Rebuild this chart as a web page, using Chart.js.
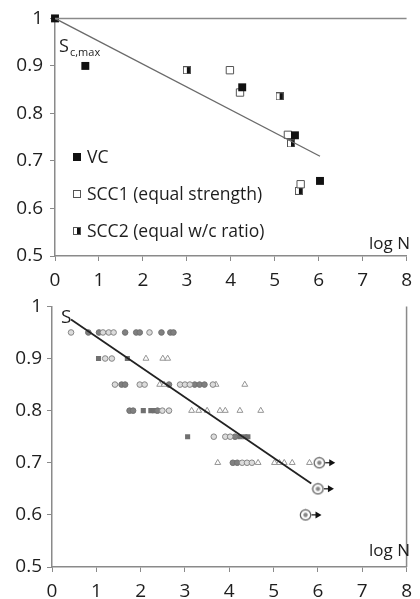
<!DOCTYPE html>
<html>
<head>
<meta charset="utf-8">
<script src="https://cdn.jsdelivr.net/npm/chart.js@4.4.0/dist/chart.umd.min.js"></script>
<style>
    html, body { margin: 0; padding: 0; background: #fff; }
    #wrap { position: relative; width: 420px; height: 599px; overflow: hidden; }
    #topChart { position: absolute; left: 0; top: 0; }
    #bottomChart { position: absolute; left: 0; top: 290px; }
</style>
</head>
<body>
<div id="wrap">
    <canvas id="topChart" width="420" height="290"></canvas>
    <canvas id="bottomChart" width="420" height="309"></canvas>
</div>
<script>
// --- tick labels (both panels)
const xTicks = [0, 1, 2, 3, 4, 5, 6, 7, 8];
const yTicks = [0.5, 0.6, 0.7, 0.8, 0.9, 1.0];

// --- top panel: [log N, S]
const vcPoints = [[0, 1.0], [0.69, 0.90], [4.26, 0.855], [5.46, 0.754], [6.03, 0.658]];
const scc1Points = [[3.98, 0.891], [4.21, 0.844], [5.30, 0.755], [5.59, 0.651]];
const scc2Points = [[3.0, 0.891], [5.11, 0.836], [5.37, 0.737], [5.55, 0.637]];
const topFitX = [0, 6.03];
const topFitY = [1.0, 0.71];
const topLegend = ['VC', 'SCC1 (equal strength)', 'SCC2 (equal w/c ratio)'];

// --- bottom panel: [log N, S]
const openCircles = [
    [0.43, 0.95], [1.15, 0.95], [1.28, 0.95], [1.39, 0.95], [2.2, 0.95],
    [1.2, 0.9], [1.35, 0.9],
    [1.42, 0.85], [1.98, 0.85], [2.09, 0.85], [2.89, 0.85], [3.0, 0.85], [3.11, 0.85], [3.63, 0.85],
    [2.49, 0.8], [2.64, 0.8],
    [3.65, 0.75], [3.91, 0.75], [4.02, 0.75],
    [4.29, 0.7], [4.40, 0.7], [4.51, 0.7]
];
const darkCircles = [
    [0.82, 0.95], [1.06, 0.95], [1.65, 0.95], [1.9, 0.95], [1.98, 0.95], [2.47, 0.95], [2.67, 0.95], [2.74, 0.95],
    [1.57, 0.85], [1.65, 0.85], [2.64, 0.85], [3.22, 0.85], [3.33, 0.85], [3.44, 0.85],
    [1.75, 0.8], [1.83, 0.8], [2.38, 0.8],
    [4.13, 0.75],
    [4.08, 0.7], [4.18, 0.7]
];
const darkSquares = [
    [1.05, 0.9], [1.7, 0.9],
    [2.06, 0.8], [2.23, 0.8], [2.31, 0.8],
    [3.06, 0.75], [4.24, 0.75], [4.35, 0.75], [4.42, 0.75]
];
const triangles = [
    [2.12, 0.9], [2.5, 0.9], [2.61, 0.9],
    [2.43, 0.85], [2.53, 0.85], [3.70, 0.85], [4.35, 0.85],
    [3.15, 0.8], [3.31, 0.8], [3.50, 0.8], [3.79, 0.8], [3.91, 0.8], [4.24, 0.8], [4.71, 0.8],
    [3.74, 0.7], [4.65, 0.7], [5.02, 0.7], [5.13, 0.7], [5.24, 0.7], [5.42, 0.7], [5.81, 0.7]
];
const runOuts = [[6.03, 0.7], [6.0, 0.65], [5.72, 0.6]];
const bottomFitX = [0.43, 5.85];
const bottomFitY = [0.975, 0.66];

const FONT = '"Open Sans", sans-serif';
const AXIS_GREY = '#8a8a8a';
const TEXT = '#1e1e1e';

function toXY(list) {
    return list.map(p => ({ x: p[0], y: p[1] }));
}

function lineXY(xs, ys) {
    return xs.map((x, i) => ({ x: x, y: ys[i] }));
}

// half white / half black square marker
function halfSquare(size) {
    const c = document.createElement('canvas');
    c.width = size; c.height = size;
    const g = c.getContext('2d');
    g.fillStyle = '#fff';
    g.fillRect(0, 0, size, size);
    g.fillStyle = '#111';
    g.fillRect(size / 2, 0, size / 2, size);
    g.strokeStyle = '#555';
    g.strokeRect(0.5, 0.5, size - 1, size - 1);
    return c;
}

// circled marker for run-outs
function runOutMark() {
    const c = document.createElement('canvas');
    c.width = 13; c.height = 13;
    const g = c.getContext('2d');
    g.strokeStyle = '#555';
    g.lineWidth = 1.2;
    g.beginPath(); g.arc(6.5, 6.5, 5.2, 0, Math.PI * 2); g.stroke();
    g.fillStyle = '#888';
    g.beginPath(); g.arc(6.5, 6.5, 2.2, 0, Math.PI * 2); g.fill();
    return c;
}

const halfSq = halfSquare(8);
const runOutImg = runOutMark();

function scales(opts) {
    return {
        x: {
            type: 'linear', min: 0, max: 8,
            afterBuildTicks: axis => { axis.ticks = xTicks.map(v => ({ value: v })); },
            afterFit: scale => { scale.height = opts.xHeight; },
            grid: { display: true, drawOnChartArea: false, drawTicks: true, tickLength: 5, color: AXIS_GREY },
            border: { display: true, color: AXIS_GREY, width: 1.5 },
            ticks: { padding: opts.xPad, color: TEXT, font: { family: FONT, size: 19 }, maxRotation: 0 }
        },
        y: {
            type: 'linear', min: 0.5, max: 1,
            afterBuildTicks: axis => { axis.ticks = yTicks.map(v => ({ value: v })); },
            afterFit: scale => { scale.width = opts.yWidth; },
            grid: { display: true, drawOnChartArea: false, drawTicks: true, tickLength: 5, color: AXIS_GREY },
            border: { display: true, color: AXIS_GREY, width: 1.5 },
            ticks: {
                padding: opts.yPad, color: TEXT, font: { family: FONT, size: 19 },
                callback: v => (Math.abs(v - 1) < 1e-9 ? '1' : v.toFixed(1))
            }
        }
    };
}

// frame, labels and legend drawn on top of the plot
const topDecor = {
    id: 'topDecor',
    afterDraw(chart) {
        const { ctx, chartArea: a } = chart;
        ctx.save();
        ctx.strokeStyle = AXIS_GREY;
        ctx.lineWidth = 1.5;
        ctx.beginPath();
        ctx.moveTo(a.left, a.top); ctx.lineTo(a.right, a.top);
        ctx.stroke();

        ctx.fillStyle = TEXT;
        ctx.textBaseline = 'alphabetic';
        ctx.font = '18px ' + FONT;
        ctx.fillText('S', 59, 52);
        ctx.font = '11px ' + FONT;
        ctx.fillText('c,max', 70, 56);
        ctx.font = '17px ' + FONT;
        ctx.textAlign = 'right';
        ctx.fillText('log N', 410, 249);

        // legend
        ctx.textAlign = 'left';
        ctx.textBaseline = 'middle';
        ctx.font = '17.5px ' + FONT;
        const rows = [157, 194, 231];
        ctx.fillStyle = '#111';
        ctx.fillRect(73, rows[0] - 4, 8, 8);
        ctx.fillStyle = '#fff';
        ctx.strokeStyle = '#555';
        ctx.lineWidth = 1;
        ctx.fillRect(73, rows[1] - 4, 8, 8);
        ctx.strokeRect(73.5, rows[1] - 3.5, 7, 7);
        ctx.drawImage(halfSq, 73, rows[2] - 4);
        ctx.fillStyle = TEXT;
        topLegend.forEach((t, i) => ctx.fillText(t, 87, rows[i] + 1));
        ctx.restore();
    }
};

const bottomDecor = {
    id: 'bottomDecor',
    afterDatasetsDraw(chart) {
        const { ctx, chartArea: a, scales: s } = chart;
        ctx.save();
        ctx.strokeStyle = AXIS_GREY;
        ctx.lineWidth = 1.5;
        ctx.beginPath();
        ctx.moveTo(a.right, a.top); ctx.lineTo(a.right, a.bottom);
        ctx.stroke();

        // arrows for run-outs
        ctx.strokeStyle = '#111';
        ctx.fillStyle = '#111';
        ctx.lineWidth = 1.2;
        runOuts.forEach(p => {
            const px = s.x.getPixelForValue(p[0]);
            const py = s.y.getPixelForValue(p[1]);
            ctx.beginPath();
            ctx.moveTo(px + 6, py); ctx.lineTo(px + 11, py);
            ctx.stroke();
            ctx.beginPath();
            ctx.moveTo(px + 10, py - 3.5); ctx.lineTo(px + 16, py); ctx.lineTo(px + 10, py + 3.5);
            ctx.closePath();
            ctx.fill();
        });

        ctx.fillStyle = TEXT;
        ctx.font = '19px ' + FONT;
        ctx.fillText('S', 61, 33);
        ctx.font = '17px ' + FONT;
        ctx.textAlign = 'right';
        ctx.fillText('log N', 410, 266);
        ctx.restore();
    }
};

function baseOptions(opts) {
    return {
        responsive: false,
        animation: false,
        layout: { padding: { top: 15, right: 5, left: 0, bottom: 0 } },
        plugins: { legend: { display: false }, tooltip: { enabled: false } },
        scales: scales(opts)
    };
}

function drawTop() {
    const ctx = document.getElementById('topChart').getContext('2d');
    new Chart(ctx, {
        type: 'scatter',
        data: {
            datasets: [
                {
                    label: 'fit', type: 'line', data: lineXY(topFitX, topFitY),
                    borderColor: '#6a6a6a', borderWidth: 1.3, pointRadius: 0, fill: false
                },
                {
                    label: topLegend[0], data: toXY(vcPoints), pointStyle: 'rect', clip: false,
                    pointRadius: 5.6, backgroundColor: '#111', borderColor: '#111', borderWidth: 0
                },
                {
                    label: topLegend[1], data: toXY(scc1Points), pointStyle: 'rect', clip: false,
                    pointRadius: 5.2, backgroundColor: '#fff', borderColor: '#555', borderWidth: 1
                },
                {
                    label: topLegend[2], data: toXY(scc2Points), pointStyle: halfSq, clip: false,
                    pointRadius: 4
                }
            ]
        },
        options: baseOptions({ xHeight: 34, xPad: 8, yWidth: 55, yPad: 7 }),
        plugins: [topDecor]
    });
}

function drawBottom() {
    const ctx = document.getElementById('bottomChart').getContext('2d');
    new Chart(ctx, {
        type: 'scatter',
        data: {
            datasets: [
                {
                    label: 'fit', type: 'line', data: lineXY(bottomFitX, bottomFitY),
                    borderColor: '#222', borderWidth: 1.8, pointRadius: 0, fill: false
                },
                {
                    label: 'open', data: toXY(openCircles), pointStyle: 'circle',
                    pointRadius: 2.8, backgroundColor: '#dcdcdc', borderColor: '#858585', borderWidth: 1
                },
                {
                    label: 'dark', data: toXY(darkCircles), pointStyle: 'circle',
                    pointRadius: 2.8, backgroundColor: '#808080', borderColor: '#707070', borderWidth: 1
                },
                {
                    label: 'square', data: toXY(darkSquares), pointStyle: 'rect',
                    pointRadius: 3.6, backgroundColor: '#707070', borderColor: '#707070', borderWidth: 0
                },
                {
                    label: 'triangle', data: toXY(triangles), pointStyle: 'triangle',
                    pointRadius: 3.4, backgroundColor: '#fff', borderColor: '#959595', borderWidth: 1
                },
                {
                    label: 'run-out', data: toXY(runOuts), pointStyle: runOutImg, pointRadius: 6, clip: false
                }
            ]
        },
        options: baseOptions({ xHeight: 32, xPad: 8, yWidth: 52, yPad: 5 }),
        plugins: [bottomDecor]
    });
}

document.addEventListener('DOMContentLoaded', function () {
    drawTop();
    drawBottom();
});
</script>
</body>
</html>
